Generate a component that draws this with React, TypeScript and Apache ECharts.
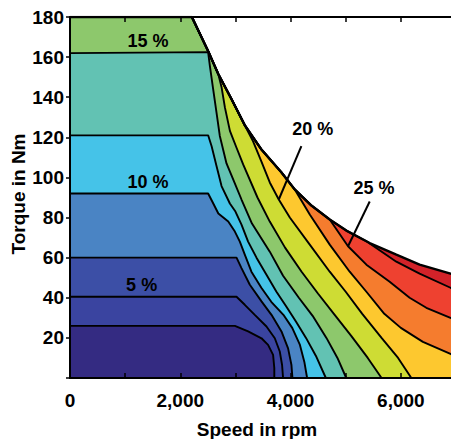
import React, { useEffect, useRef } from "react";
import * as echarts from "echarts";

// ---- data (speed in rpm, torque in Nm) ----
const envelope: number[][] = [
  [0, 180], [2210, 180], [2505, 163], [2690, 151.5], [2930, 139], [3170, 126],
  [3470, 114], [3835, 102.5], [4076, 94], [4378, 86], [4710, 79], [5012, 73.5],
  [5435, 67.3], [5918, 61.5], [6340, 56.5], [6900, 52], [7000, 51.3],
];

const contour1: number[][] = [[0, 26], [2990, 26], [3230, 23.2], [3473, 19.8], [3592, 16.5], [3683, 11.5], [3705, 5], [3705, 0]];
const contour2: number[][] = [[0, 40.5], [3020, 40.5], [3170, 36.5], [3351, 31.5], [3563, 25.7], [3714, 19.8], [3804, 13.2], [3846, 6.5], [3864, 0]];
const contour3: number[][] = [[0, 60], [3020, 60], [3110, 54.8], [3261, 46.5], [3473, 38.2], [3654, 31.5], [3835, 23.2], [3955, 14.8], [4016, 6.5], [4034, 0]];
const contour4: number[][] = [[0, 92], [2505, 92], [2580, 88], [2690, 82], [2870, 78], [2990, 73], [3080, 68], [3170, 61.5], [3290, 53], [3470, 45], [3650, 38], [3870, 31.5], [4030, 25], [4170, 16.5], [4250, 8], [4300, 0]];
const contour5: number[][] = [[0, 121], [2505, 121], [2567, 115.7], [2657, 105.7], [2748, 95.7], [2899, 87], [3000, 83], [3110, 76.5], [3230, 68], [3382, 60], [3563, 51.5], [3744, 43], [3925, 35.5], [4100, 28], [4280, 20], [4460, 11], [4640, 0]];
const contour6: number[][] = [[0, 162], [2505, 162.5], [2536, 155.7], [2596, 144], [2657, 132.3], [2717, 120.7], [2838, 107], [2959, 99], [3110, 89], [3300, 77], [3623, 63], [3864, 51], [4150, 40], [4400, 31], [4650, 20], [4850, 10], [5010, 0]];
const contour7: number[][] = [[2690, 151.5], [2750, 144.8], [2810, 134.8], [2900, 123.2], [3020, 114.8], [3140, 106.5], [3400, 90], [3623, 78], [3900, 65], [4200, 53], [4500, 42], [4800, 31.5], [5100, 21], [5400, 10], [5650, 0]];
const contour8: number[][] = [[3200, 124.4], [3320, 118], [3470, 108], [3623, 97.5], [3786, 89], [3986, 80], [4348, 66.5], [4710, 53], [5000, 43], [5300, 32], [5650, 20], [5950, 10], [6190, 0]];
const contour9: number[][] = [[4076, 94], [4348, 81.5], [4710, 66.5], [5072, 53], [5375, 43], [5700, 32], [6000, 25], [6400, 18], [6900, 12], [7000, 11]];
const contour10: number[][] = [[4710, 79], [5042, 65.7], [5375, 56.5], [5797, 48], [6159, 40], [6462, 35], [6900, 30], [7000, 29]];
const contour11: number[][] = [[5375, 68.2], [5918, 58], [6340, 52], [6900, 45], [7000, 44]];

// fill colour of the band just below each boundary (outermost first)
const bandColors = [
  "#D22229",
  "#EE4130",
  "#F57C2E",
  "#FDC82F",
  "#CEDC34",
  "#8DC86C",
  "#62C2B3",
  "#45C3E8",
  "#4A84C4",
  "#3C4FA6",
  "#3A44A0",
  "#342B82",
];

const labelTexts = ["15 %", "10 %", "5 %", "20 %", "25 %"];
const labelX = [1413, 1413, 1299, 4402, 5513];
const labelY = [168, 97.5, 46.5, 124, 94.9];

const leader20: number[][] = [[4196, 115.6], [3786, 89]];
const leader25: number[][] = [[5435, 88], [5042, 65.7]];

const xTicks = [0, 7000, 1000];
const yTicks = [0, 180, 20];

const FONT = '"Liberation Sans", Arial, Helvetica, sans-serif';

function withEnvelope(c: number[][]): number[][] {
  const sx = c[0][0];
  if (sx === 0) return c;
  return [...envelope.filter((p) => p[0] < sx), ...c];
}

export default function App() {
  const ref = useRef<HTMLDivElement>(null);
  useEffect(() => {
    if (!ref.current) return;
    const chart = echarts.init(ref.current, undefined, { renderer: "svg" });
    const boundaries = [
      envelope, contour11, contour10, contour9, contour8, contour7,
      contour6, contour5, contour4, contour3, contour2, contour1,
    ];
    const areaSeries = boundaries.map((b, i) => ({
      type: "line",
      data: withEnvelope(b),
      symbol: "none",
      silent: true,
      smooth: false,
      lineStyle: { color: "#000", width: i === 0 ? 2.4 : 1.9 },
      areaStyle: { color: bandColors[i], opacity: 1 },
      z: 2,
    }));
    const leaderSeries = [leader20, leader25].map((d) => ({
      type: "line",
      data: d,
      symbol: "none",
      silent: true,
      lineStyle: { color: "#000", width: 2 },
      z: 3,
    }));
    const labelSeries = {
      type: "scatter",
      symbolSize: 2,
      silent: true,
      itemStyle: { color: "rgba(0,0,0,0)", opacity: 1 },
      z: 4,
      data: labelTexts.map((t, i) => ({
        value: [labelX[i], labelY[i]],
        label: {
          show: true,
          formatter: t,
          position: "inside",
          color: "#000",
          opacity: 1,
          fontSize: 18,
          fontWeight: "bold",
          fontFamily: FONT,
        },
      })),
    };
    const axisLine = { show: true, lineStyle: { color: "#000", width: 2 } };
    chart.setOption({
      animation: false,
      backgroundColor: "#fff",
      grid: { left: 70, top: 17, bottom: 61, right: -5, containLabel: false, outerBoundsMode: "none" },
      xAxis: [
        {
          type: "value",
          min: xTicks[0],
          max: xTicks[1],
          interval: xTicks[2],
          position: "bottom",
          z: 10,
          axisLine,
          axisTick: { show: true, inside: true, length: 5, lineStyle: { color: "#000", width: 1.5 } },
          splitLine: { show: false },
          axisLabel: {
            margin: 13,
            color: "#000",
            fontSize: 19,
            fontWeight: "bold",
            fontFamily: FONT,
            formatter: (v: number) => (v % 2000 === 0 ? v.toLocaleString("en-US") : ""),
          },
        },
        {
          type: "value",
          min: xTicks[0],
          max: xTicks[1],
          interval: xTicks[2],
          position: "top",
          z: 10,
          axisLine,
          axisTick: { show: true, inside: true, length: 5, lineStyle: { color: "#000", width: 1.5 } },
          splitLine: { show: false },
          axisLabel: { show: false },
        },
      ],
      yAxis: {
        type: "value",
        min: yTicks[0],
        max: yTicks[1],
        interval: yTicks[2],
        z: 10,
        axisLine,
        axisTick: { show: true, inside: false, length: 4, lineStyle: { color: "#000", width: 1.5 } },
        splitLine: { show: false },
        axisLabel: {
          margin: 6,
          color: "#000",
          fontSize: 19,
          fontWeight: "bold",
          fontFamily: FONT,
          formatter: (v: number) => (v === 0 ? "" : String(v)),
        },
      },
      graphic: [
        {
          type: "text",
          x: 257,
          y: 429.5,
          style: { text: "Speed in rpm", font: `bold 19px ${FONT}`, fill: "#000", align: "center", verticalAlign: "middle" },
        },
        {
          type: "text",
          x: 18,
          y: 194,
          rotation: Math.PI / 2,
          style: { text: "Torque in Nm", font: `bold 19px ${FONT}`, fill: "#000", align: "center", verticalAlign: "middle" },
        },
      ],
      series: [...areaSeries, ...leaderSeries, labelSeries],
    });
    return () => chart.dispose();
  }, []);
  return (
    <div
      ref={ref}
      style={{ position: "fixed", left: 0, top: 0, width: 451, height: 439, background: "#fff" }}
    />
  );
}
